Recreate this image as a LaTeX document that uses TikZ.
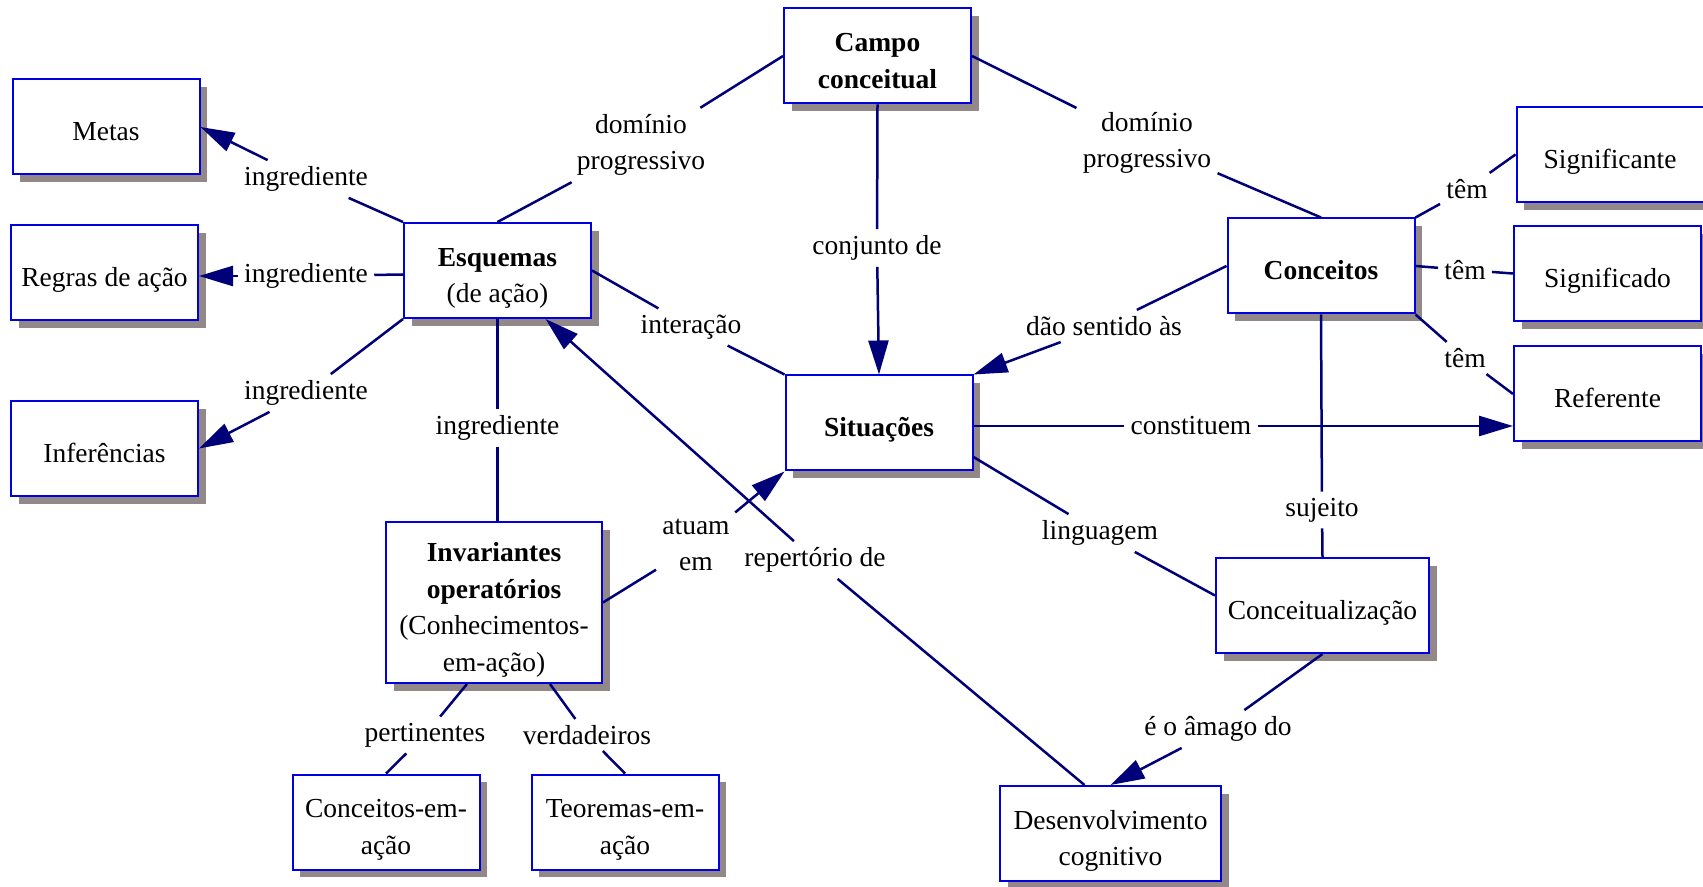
\documentclass[tikz,border=0pt]{standalone}
\usepackage{fontspec}
\setmainfont{Liberation Serif}
\usetikzlibrary{arrows.meta,shadows}

\definecolor{boxblue}{RGB}{0,0,225}
\definecolor{linknavy}{RGB}{0,0,120}
\definecolor{shadowgray}{RGB}{146,136,136}

\newcommand{\tstrut}{\rule{0pt}{17.2pt}}

\tikzset{
  concept/.style={draw=boxblue,line width=1pt,fill=white,align=center,inner sep=2pt,
    minimum width=93.5pt,minimum height=47.5pt,
    execute at begin node={\tstrut},
    execute at end node={\rule[-3.2pt]{0pt}{0pt}},
    drop shadow={shadow xshift=3.8pt,shadow yshift=-3.8pt,fill=shadowgray,opacity=1}},
  linkword/.style={align=center,inner sep=3pt},
  conn/.style={draw=linknavy,line width=1.25pt},
  arr/.style={conn,-{Triangle[length=17pt,width=10pt]}}
}

\begin{document}
\begin{tikzpicture}[x=0.5pt,y=-0.5pt,font=\fontsize{13.75}{18.3}\selectfont]
  \useasboundingbox (0,0) rectangle (1703,887);

  % concepts
  \node[concept] (campo)  at (877.5,56)   {\tstrut\textbf{Campo}\\\textbf{conceitual}};
  \node[concept] (metas)  at (106,127)    {Metas};
  \node[concept] (regras) at (104.5,272.5) {Regras de ação};
  \node[concept] (infer)  at (104.5,448.5) {Inferências};
  \node[concept] (esq)    at (497.5,270.5) {\tstrut\textbf{Esquemas}\\(de ação)};
  \node[concept,minimum width=108pt,minimum height=80.5pt] (invar) at (494,602.5)
    {\tstrut\textbf{Invariantes}\\\textbf{operatórios}\\(Conhecimentos-\\em-ação)};
  \node[concept] (cea)    at (386,822)    {\tstrut Conceitos-em-\\ação};
  \node[concept] (tea)    at (625,822)    {\tstrut Teoremas-em-\\ação};
  \node[concept] (sit)    at (879,423)    {\textbf{Situações}};
  \node[concept] (conc)   at (1321,266)   {\textbf{Conceitos}};
  \node[concept] (signte) at (1610,154.5) {Significante};
  \node[concept] (signdo) at (1607.5,273.5) {Significado};
  \node[concept] (ref)    at (1607.5,394) {Referente};
  \node[concept,minimum width=106.5pt] (concz) at (1322.5,605.5) {Conceitualização};
  \node[concept,minimum width=110.5pt] (desenv) at (1110.5,833.5) {\tstrut Desenvolvimento\\cognitivo};

  % links
  \node[linkword] (dom1) at (641,145) {domínio\\progressivo};
  \draw[conn] (campo.west) -- (dom1);
  \draw[conn] (dom1) -- (esq.north);

  \node[linkword] (dom2) at (1147,143) {domínio\\progressivo};
  \draw[conn] (campo.east) -- (dom2);
  \draw[conn] (dom2) -- (conc.north);

  \node[linkword] (conj) at (877,248) {conjunto de};
  \draw[conn] (campo.south) -- (conj);
  \draw[arr] (conj) -- (sit.north);

  \foreach \tgt/\from/\y in {metas/north west/179,infer/south west/393} {
    \node[linkword] (ing-\tgt) at (306,\y) {ingrediente};
    \draw[conn] (esq.\from) -- (ing-\tgt);
    \draw[arr] (ing-\tgt) -- (\tgt.east);
  }
  \node[linkword] (ing-regras) at (306,276) {ingrediente};
  \draw[conn] ([yshift=-2pt]esq.west) -- (ing-regras);
  \draw[arr] (ing-regras) -- (ing-regras -| regras.east);

  \node[linkword] (ing-invar) at (497.5,428) {ingrediente};
  \draw[conn] (esq.south) -- (ing-invar);
  \draw[conn] (ing-invar) -- (ing-invar |- invar.north);

  \node[linkword] (inter) at (691,327) {interação};
  \draw[conn] (esq.east) -- (inter);
  \draw[conn] (inter) -- (sit.north west);

  \node[linkword] (atuam) at (696,545) {atuam\\em};
  \draw[conn] (invar.east) -- (atuam);
  \draw[arr] (atuam) -- (sit.south west);

  \node[linkword] (rep) at (815,560) {repertório de};
  \draw[conn] ([xshift=-13pt]desenv.north) -- (rep);
  \draw[arr] (rep) -- ([xshift=24pt]esq.south);

  \node[linkword] (pert) at (425,735) {pertinentes};
  \draw[conn] ([xshift=-13.5pt]invar.south) -- (pert);
  \draw[conn] (pert) -- (cea.north);

  \node[linkword] (verd) at (587,735) {verdadeiros};
  \draw[conn] ([xshift=28pt]invar.south) -- (verd);
  \draw[conn] (verd) -- (tea.north);

  \node[linkword] (dao) at (1104,326) {dão sentido às};
  \draw[conn] (conc.west) -- (dao);
  \draw[arr] (dao) -- (sit.north east);

  \node[linkword] (const) at (1191,426) {constituem};
  \draw[conn] ([yshift=-1.5pt]sit.east) -- (const);
  \draw[arr] (const) -- (const -| ref.west);

  \node[linkword] (ling) at (1100,533) {linguagem};
  \draw[conn] ([yshift=-17pt]sit.east) -- (ling);
  \draw[conn] (ling) -- ([yshift=5pt]concz.west);

  \node[linkword] (suj) at (1322,510) {sujeito};
  \draw[conn] (conc.south) -- (suj);
  \draw[conn] (suj) -- (concz.north);

  \node[linkword] (amago) at (1218,729) {é o âmago do};
  \draw[conn] (concz.south) -- (amago);
  \draw[arr] (amago) -- (desenv.north);

  \foreach \tgt/\from/\x/\y in {signte/north east/1467/189,signdo/east/1465/270,ref/south east/1465/358} {
    \node[linkword] (tem-\tgt) at (\x,\y) {têm};
    \draw[conn] (conc.\from) -- (tem-\tgt);
    \draw[conn] (tem-\tgt) -- (\tgt.west);
  }
\end{tikzpicture}
\end{document}
